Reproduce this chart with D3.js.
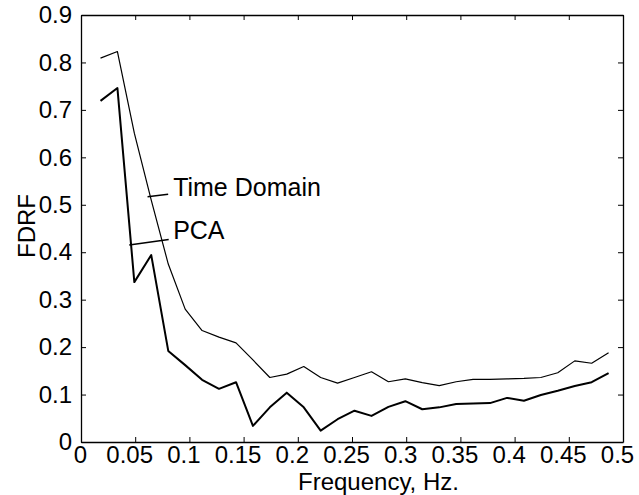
<!DOCTYPE html>
<html>
<head>
<meta charset="utf-8">
<script src="https://cdn.jsdelivr.net/npm/d3@7"></script>
<style>
  html, body { margin: 0; padding: 0; background: #fff; }
  svg { display: block; }
  text { font-family: "Liberation Sans", Arial, sans-serif; fill: #000; }
</style>
</head>
<body>
<svg id="chart" width="639" height="495"></svg>
<script>
// ---- data ----
const frequencies = [0.0180, 0.0336, 0.0492, 0.0648, 0.0805, 0.0961, 0.1117, 0.1273, 0.1430, 0.1586,
  0.1742, 0.1898, 0.2055, 0.2211, 0.2367, 0.2523, 0.2680, 0.2836, 0.2992, 0.3148,
  0.3305, 0.3461, 0.3617, 0.3773, 0.3930, 0.4086, 0.4242, 0.4398, 0.4555, 0.4711, 0.4867];
const timeDomain = [0.809, 0.823, 0.651, 0.510, 0.375, 0.280, 0.235, 0.221, 0.209, 0.173,
  0.136, 0.143, 0.159, 0.136, 0.124, 0.136, 0.148, 0.127, 0.133, 0.125,
  0.119, 0.127, 0.132, 0.132, 0.133, 0.134, 0.136, 0.146, 0.171, 0.166, 0.188];
const pca = [0.719, 0.746, 0.337, 0.394, 0.192, 0.162, 0.131, 0.112, 0.126, 0.034,
  0.073, 0.104, 0.073, 0.024, 0.048, 0.066, 0.055, 0.074, 0.086, 0.069,
  0.073, 0.080, 0.081, 0.082, 0.093, 0.087, 0.099, 0.108, 0.118, 0.126, 0.145];
const xTickValues = [0, 0.05, 0.1, 0.15, 0.2, 0.25, 0.3, 0.35, 0.4, 0.45, 0.5];
const xTickLabels = ["0", "0.05", "0.1", "0.15", "0.2", "0.25", "0.3", "0.35", "0.4", "0.45", "0.5"];
const yTickValues = [0, 0.1, 0.2, 0.3, 0.4, 0.5, 0.6, 0.7, 0.8, 0.9];
const yTickLabels = ["0", "0.1", "0.2", "0.3", "0.4", "0.5", "0.6", "0.7", "0.8", "0.9"];
const xLabel = "Frequency, Hz.";
const yLabel = "FDRF";
// annotations: [label, leader start f, leader start v, leader end f, leader end v, text f, text v]
const annotations = [
  ["Time Domain", 0.0614, 0.517, 0.0804, 0.522, 0.085, 0.519],
  ["PCA", 0.0445, 0.415, 0.0809, 0.427, 0.085, 0.427]
];

// ---- layout ----
const mLeft = 81, mRight = 623, mTop = 15, mBottom = 442;
const svg = d3.select("#chart");

const x = d3.scaleLinear().domain([0, 0.5]).range([mLeft, mRight]);
const y = d3.scaleLinear().domain([0, 0.9]).range([mBottom, mTop]);

// axes (inward ticks, box)
const fontSize = 25;
const xAxis = d3.axisBottom(x).tickValues(xTickValues)
  .tickFormat((d, i) => xTickLabels[i]).tickSizeInner(-5).tickSizeOuter(0).tickPadding(4);
const gx = svg.append("g").attr("transform", `translate(0,${mBottom})`).call(xAxis);
gx.selectAll("text").attr("font-size", 24).attr("dx", (d, i) => i === 0 ? -1 : -6)
  .style("font-family", '"Liberation Sans", Arial, sans-serif');

const xAxisTop = d3.axisTop(x).tickValues(xTickValues).tickFormat("").tickSizeInner(-5).tickSizeOuter(0);
svg.append("g").attr("transform", `translate(0,${mTop})`).call(xAxisTop);

const yAxis = d3.axisLeft(y).tickValues(yTickValues)
  .tickFormat((d, i) => yTickLabels[i]).tickSizeInner(-5).tickSizeOuter(0).tickPadding(9);
const gy = svg.append("g").attr("transform", `translate(${mLeft},0)`).call(yAxis);
gy.selectAll("text").attr("font-size", 24)
  .style("font-family", '"Liberation Sans", Arial, sans-serif');

const yAxisRight = d3.axisRight(y).tickValues(yTickValues).tickFormat("").tickSizeInner(-5).tickSizeOuter(0);
svg.append("g").attr("transform", `translate(${mRight},0)`).call(yAxisRight);

svg.selectAll(".domain").attr("stroke", "#000").attr("stroke-width", 1.3);
svg.selectAll(".tick line").attr("stroke", "#000").attr("stroke-width", 1);

// lines
const line = d3.line().x((d, i) => x(frequencies[i])).y(d => y(d));
svg.append("path").datum(timeDomain).attr("d", line)
  .attr("fill", "none").attr("stroke", "#000").attr("stroke-width", 1.2).attr("stroke-linejoin", "round");
svg.append("path").datum(pca).attr("d", line)
  .attr("fill", "none").attr("stroke", "#000").attr("stroke-width", 2).attr("stroke-linejoin", "round");

// annotations
annotations.forEach(a => {
  svg.append("line")
    .attr("x1", x(a[1])).attr("y1", y(a[2]))
    .attr("x2", x(a[3])).attr("y2", y(a[4]))
    .attr("stroke", "#000").attr("stroke-width", 1.5);
  svg.append("text").attr("x", x(a[5])).attr("y", y(a[6]))
    .attr("font-size", fontSize).text(a[0]);
});

// axis labels
svg.append("text").attr("x", 298).attr("y", 490)
  .attr("font-size", 24).text(xLabel);
svg.append("text")
  .attr("transform", `translate(35,${226}) rotate(-90)`)
  .attr("text-anchor", "middle").attr("font-size", 24).text(yLabel);
</script>
</body>
</html>
